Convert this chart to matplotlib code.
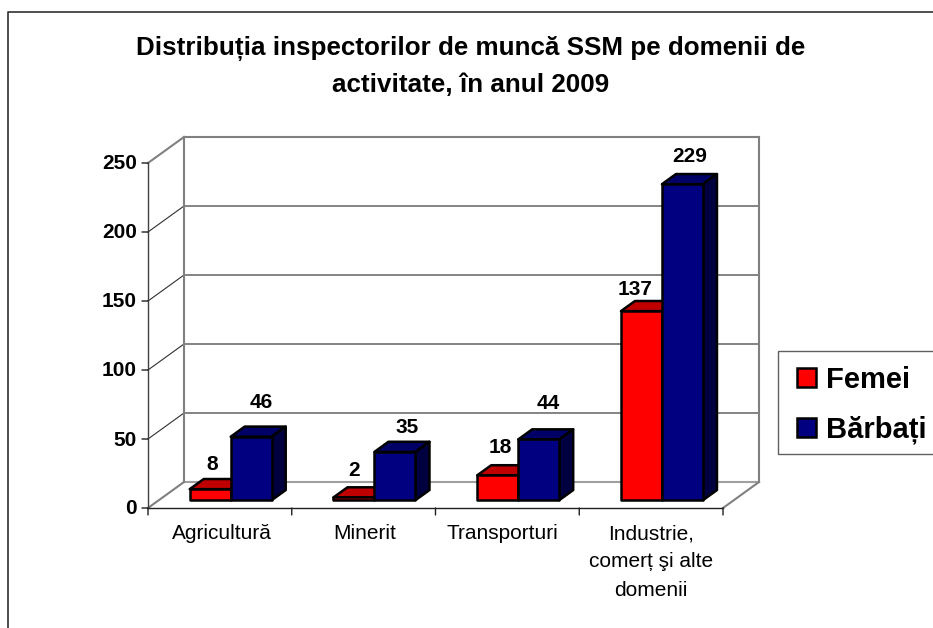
import numpy as np
import matplotlib
matplotlib.use('Agg')
import matplotlib.pyplot as plt
from matplotlib.lines import Line2D
from matplotlib.patches import Patch, Rectangle

plt.rcParams['font.family'] = ['Liberation Sans', 'DejaVu Sans']

# Datele graficului
categorii = ['Agricultură', 'Minerit', 'Transporturi', 'Industrie,\ncomerț şi alte\ndomenii']
femei = [8, 2, 18, 137]
barbati = [46, 35, 44, 229]
y_ticks = [0, 50, 100, 150, 200, 250]
titlu = 'Distribuția inspectorilor de muncă SSM pe domenii de\nactivitate, în anul 2009'

# Deplasarea etichetelor fata de bara, in pixeli
offset_femei = [(2, 25), (0, 27), (3, 28), (-6, 22)]
offset_barbati = [(10, 34), (12, 24), (10, 36), (7, 28)]
offset_categorii = [2, 1, -5, 0]

W, H = 933, 628
fig = plt.figure(figsize=(W / 100, H / 100), dpi=100, facecolor='white')
ax = fig.add_axes([148 / W, (H - 508) / H, 575 / W, 345 / H])
ax.set_xlim(0, 4)
ax.set_ylim(0, 250)
ax.axis('off')

# adancimea falsa 3D, in unitati de date
DX = 36 / 143.75
DY = 26 / 1.38
BAR_W = 41 / 143.75
D0, D1 = 0.3, 0.69


def line3d(xs, ys, ds, **kw):
    xs = np.array(xs) + np.array(ds) * DX
    ys = np.array(ys) + np.array(ds) * DY
    ax.plot(xs, ys, clip_on=False, solid_capstyle='projecting', **kw)


def bar3d(x, h, front, top, side):
    for pts, c in [
        ([(x, h, D0), (x + BAR_W, h, D0), (x + BAR_W, h, D1), (x, h, D1)], top),
        ([(x + BAR_W, 0, D0), (x + BAR_W, h, D0), (x + BAR_W, h, D1), (x + BAR_W, 0, D1)], side),
        ([(x, 0, D0), (x + BAR_W, 0, D0), (x + BAR_W, h, D0), (x, h, D0)], front),
    ]:
        px = [p[0] + p[2] * DX for p in pts]
        py = [p[1] + p[2] * DY for p in pts]
        ax.fill(px, py, facecolor=c, edgecolor='black', linewidth=1.8,
                joinstyle='round', clip_on=False, zorder=3)


# peretii si liniile de grila
grila = '#707070'
for v in y_ticks[1:-1]:
    line3d([0, 0], [v, v], [0, 1], color='#303030', lw=0.8, zorder=1)
    line3d([0, 4], [v, v], [1, 1], color=grila, lw=1.2, zorder=1)
line3d([0, 0], [250, 250], [0, 1], color='#808080', lw=1.5, zorder=1)
line3d([0, 4], [250, 250], [1, 1], color='#808080', lw=1.5, zorder=1)
line3d([0, 0], [0, 250], [1, 1], color='#808080', lw=1.5, zorder=1)
line3d([4, 4], [0, 250], [1, 1], color='#808080', lw=1.5, zorder=1)
line3d([0, 4], [0, 0], [1, 1], color='#a0a0a0', lw=1.5, zorder=1)
line3d([0, 0], [0, 0], [0, 1], color='#808080', lw=1.5, zorder=1)
line3d([4, 4], [0, 0], [0, 1], color='#808080', lw=1.5, zorder=1)

# axele din fata
ax.plot([0, 4], [0, 0], color='#202020', lw=1.0, clip_on=False, zorder=2)
ax.plot([0, 0], [0, 250], color='#404040', lw=1.0, clip_on=False, zorder=2)
for i in range(5):
    ax.annotate('', xy=(i, 0), xytext=(0, -7), textcoords='offset pixels',
                arrowprops=dict(arrowstyle='-', color='#202020', lw=1.0, shrinkA=0, shrinkB=0))
for v in y_ticks:
    ax.annotate('', xy=(0, v), xytext=(-6, 0), textcoords='offset pixels',
                arrowprops=dict(arrowstyle='-', color='#202020', lw=1.0, shrinkA=0, shrinkB=0))
    ax.annotate(str(v), xy=(0, v), xytext=(-11, -1), textcoords='offset pixels',
                ha='right', va='center', fontsize=15, fontweight='bold')
for i, c in enumerate(categorii):
    ax.annotate(c, xy=(i + 0.5, 0), xytext=(offset_categorii[i], -16), textcoords='offset pixels',
                ha='center', va='top', fontsize=15, linespacing=1.63)

# barele
for i in range(4):
    x_r = i + 0.5 - BAR_W
    bar3d(x_r, femei[i], '#ff0000', '#c00000', '#800000')
    bar3d(x_r + BAR_W, barbati[i], '#000080', '#000066', '#000040')
    for x0, val, off in [(x_r, femei[i], offset_femei[i]),
                         (x_r + BAR_W, barbati[i], offset_barbati[i])]:
        ax.annotate(str(val), xy=(x0 + BAR_W / 2 + D0 * DX, val + D0 * DY), xytext=off,
                    textcoords='offset pixels', ha='center', va='center',
                    fontsize=15, fontweight='bold', zorder=5)

# titlul
fig.text(471 / W, 1 - 66.5 / H, titlu, ha='center', va='center', fontsize=18.7,
         fontweight='bold', linespacing=1.6)

# legenda
fig.add_artist(Rectangle((778 / W, 1 - 454 / H), 160 / W, 103 / H, transform=fig.transFigure,
                         facecolor='white', edgecolor='#606060', linewidth=1.0))
handles = [Patch(facecolor='#ff0000', edgecolor='black', linewidth=1.8),
           Patch(facecolor='#000080', edgecolor='black', linewidth=1.8)]
leg = fig.legend(handles, ['Femei', 'Bărbați'], loc='upper left',
                 bbox_to_anchor=(797 / W, 1 - 366 / H), borderaxespad=0,
                 prop={'size': 21, 'weight': 'bold'}, frameon=False,
                 handlelength=0.65, handleheight=0.65,
                 handletextpad=0.33, labelspacing=0.75, borderpad=0)

# chenarul exterior
fig.add_artist(Line2D([8 / W, 8 / W, 1], [0, 1 - 12 / H, 1 - 12 / H], color='#303030', lw=1.2))

fig.savefig('out.png', dpi=100)
